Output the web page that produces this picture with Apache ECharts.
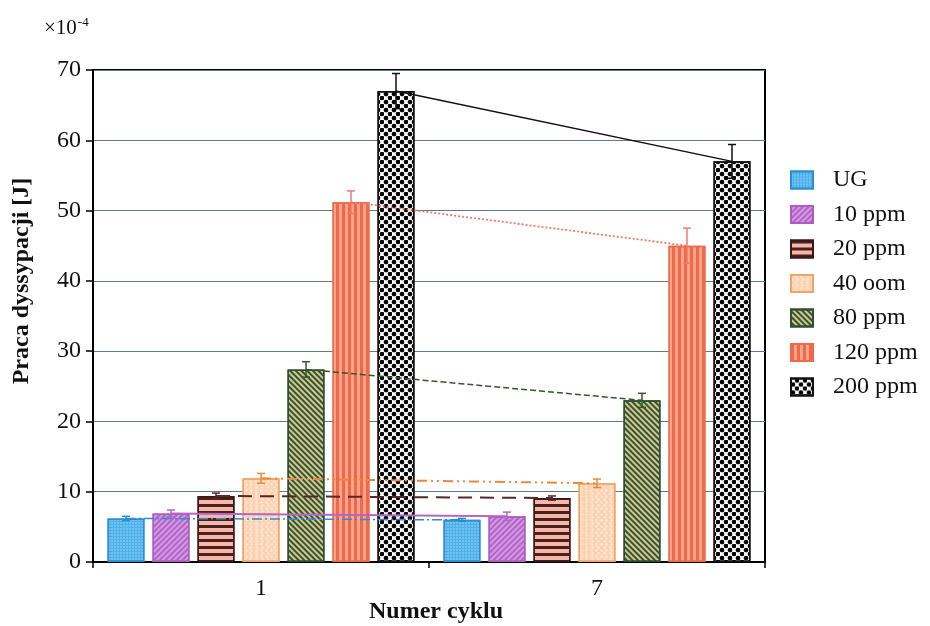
<!DOCTYPE html>
<html>
<head>
<meta charset="utf-8">
<script src="https://cdn.jsdelivr.net/npm/echarts@6/dist/echarts.min.js"></script>
<style>html,body{margin:0;padding:0;background:#fff;}#c{width:930px;height:626px;}</style>
</head>
<body>
<div id="c"></div>
<script>
// ---- data ----
var categories = ['1', '7'];
var seriesNames = ['UG', '10 ppm', '20 ppm', '40 oom', '80 ppm', '120 ppm', '200 ppm'];
var valUG   = [6.2, 6.0];
var val10   = [6.9, 6.5];
var val20   = [9.4, 9.1];
var val40   = [11.9, 11.2];
var val80   = [27.4, 23.0];
var val120  = [51.2, 45.0];
var val200  = [67.0, 57.0];
var errUG   = [0.3, 0.2];
var err10   = [0.5, 0.6];
var err20   = [0.4, 0.3];
var err40   = [0.7, 0.6];
var err80   = [1.1, 1.0];
var err120  = [1.6, 2.5];
var err200  = [2.5, 2.4];
var yTicks  = [0, 10, 20, 30, 40, 50, 60, 70];

var values = [valUG, val10, val20, val40, val80, val120, val200];
var errors = [errUG, err10, err20, err40, err80, err120, err200];

// ---- styles ----
var BAR_W = 37, GAP = 8;
var FONT = '"Liberation Serif", "Times New Roman", serif';
var styles = [
  { fill: '#4cb0ea', border: '#2a8ed6', line: '#2a8fd0', dash: [10, 3, 2, 3], lw: 1.5,
    decal: { symbol: 'rect', symbolSize: 0.7, dashArrayX: [[2, 1]], dashArrayY: [2, 1], color: 'rgba(255,255,255,0.45)' } },
  { fill: '#d29ae0', border: '#ad5cc0', line: '#b466c8', dash: null, lw: 2,
    decal: { symbol: 'rect', symbolSize: 1, dashArrayX: [1, 0], dashArrayY: [2, 2], rotation: -Math.PI / 4, color: '#b463c8' } },
  { fill: '#f6b7a6', border: '#3a1818', line: '#5a2626', dash: [14, 8], lw: 2,
    decal: { symbol: 'rect', symbolSize: 1, dashArrayX: [1, 0], dashArrayY: [2.5, 3.8], color: '#4a2020' } },
  { fill: '#fcd2b0', border: '#f2a466', line: '#f0883a', dash: [10, 4, 2, 4, 2, 4], lw: 2,
    decal: { symbol: 'circle', symbolSize: 0.8, dashArrayX: [[3, 2], [0, 2.5, 3, 0]], dashArrayY: [2.5, 0], color: 'rgba(255,255,255,0.5)' } },
  { fill: '#d8c689', border: '#2f4f2f', line: '#2f5a2a', dash: [6, 3], lw: 1.5,
    decal: { symbol: 'rect', symbolSize: 1, dashArrayX: [1, 0], dashArrayY: [2, 2], rotation: Math.PI / 4, color: '#2f553a' } },
  { fill: '#f9a58c', border: '#f06a4a', line: '#f07a66', dash: [2, 2], lw: 1.8,
    decal: { symbol: 'rect', symbolSize: 1, dashArrayX: [2.5, 2.2], dashArrayY: [1, 0], color: '#f0684c' } },
  { fill: '#ffffff', border: '#111111', line: '#111111', dash: null, lw: 1.5,
    decal: { symbol: 'circle', symbolSize: 1.15, dashArrayX: [[4, 4], [0, 4, 4, 0]], dashArrayY: [4, 0], color: '#000000' } }
];

function offsetOf(s) { return (s - 3) * (BAR_W + GAP); }

var series = [];
seriesNames.forEach(function (name, s) {
  series.push({
    type: 'bar', name: name, data: values[s],
    barWidth: BAR_W, barGap: (GAP / BAR_W * 100).toFixed(2) + '%',
    itemStyle: { color: styles[s].fill, borderColor: styles[s].border, borderWidth: 1.5, decal: styles[s].decal },
    z: 2
  });
});

// trend lines between cycles
var trendData = seriesNames.map(function (n, s) { return [0, values[s][0], values[s][1], s]; });
series.push({
  type: 'custom', name: 'trend', data: trendData, encode: { x: 0, y: 1 }, z: 5, silent: true,
  renderItem: function (params, api) {
    var s = api.value(3);
    var p1 = api.coord([0, api.value(1)]);
    var p2 = api.coord([1, api.value(2)]);
    var off = offsetOf(s);
    var st = styles[s];
    return {
      type: 'line',
      shape: { x1: p1[0] + off, y1: p1[1], x2: p2[0] + off, y2: p2[1] },
      style: { stroke: st.line, lineWidth: st.lw, lineDash: st.dash || null, fill: null }
    };
  }
});

// error bars
var errData = [];
seriesNames.forEach(function (n, s) {
  categories.forEach(function (c, ci) { errData.push([ci, values[s][ci], errors[s][ci], s]); });
});
series.push({
  type: 'custom', name: 'err', data: errData, encode: { x: 0, y: 1 }, z: 6, silent: true,
  renderItem: function (params, api) {
    var ci = api.value(0), v = api.value(1), e = api.value(2), s = api.value(3);
    var off = offsetOf(s);
    var top = api.coord([ci, v + e]);
    var bot = api.coord([ci, v - e]);
    var x = top[0] + off;
    var col = styles[s].line;
    var cap = 4;
    var st = { stroke: col, lineWidth: 1.5 };
    return {
      type: 'group',
      children: [
        { type: 'line', shape: { x1: x, y1: top[1], x2: x, y2: bot[1] }, style: st },
        { type: 'line', shape: { x1: x - cap, y1: top[1], x2: x + cap, y2: top[1] }, style: st },
        { type: 'line', shape: { x1: x - cap, y1: bot[1], x2: x + cap, y2: bot[1] }, style: st }
      ]
    };
  }
});

var chart = echarts.init(document.getElementById('c'), null, { renderer: 'canvas' });
chart.setOption({
  animation: false,
  backgroundColor: '#ffffff',
  textStyle: { fontFamily: FONT },
  grid: { left: 93, right: 165, top: 70, bottom: 64, show: true, borderColor: '#000', borderWidth: 2,
          containLabel: false, outerBoundsMode: 'none' },
  legend: {
    data: seriesNames, orient: 'vertical', left: 790, top: 168, padding: 0,
    icon: 'rect', itemWidth: 22, itemHeight: 17, itemGap: 10.5,
    textStyle: { fontFamily: FONT, fontSize: 24, color: '#111', padding: [0, 0, 0, 15] },
    selectedMode: false
  },
  xAxis: {
    type: 'category', data: categories,
    axisLine: { lineStyle: { color: '#000', width: 2 } },
    axisTick: { show: true, length: 6, lineStyle: { color: '#000', width: 1.5 } },
    axisLabel: { fontFamily: FONT, fontSize: 24, color: '#111', margin: 15 },
    name: 'Numer cyklu', nameLocation: 'middle', nameGap: 38, nameMoveOverlap: false,
    nameTextStyle: { fontFamily: FONT, fontSize: 24, fontWeight: 'bold', color: '#111', padding: [0, 0, 0, 14] }
  },
  yAxis: {
    type: 'value', min: 0, max: 70, interval: 10,
    axisLine: { show: true, lineStyle: { color: '#000', width: 2 } },
    axisTick: { show: true, length: 7, lineStyle: { color: '#000', width: 1.5 } },
    axisLabel: { fontFamily: FONT, fontSize: 24, color: '#111', margin: 12,
      formatter: function (v) { return yTicks.indexOf(v) >= 0 ? String(v) : ''; } },
    splitLine: { show: true, lineStyle: { color: '#5d7b8a', width: 1 } }
  },
  graphic: [{
    type: 'text', left: 44, top: 16,
    style: {
      text: '{a|×10}{b|-4}',
      rich: {
        a: { fontFamily: FONT, fontSize: 21, fill: '#111', verticalAlign: 'bottom' },
        b: { fontFamily: FONT, fontSize: 13, fill: '#111', verticalAlign: 'top', padding: [0, 0, 10, 1] }
      }
    }
  }, {
    type: 'text', x: 22, y: 281, rotation: Math.PI / 2,
    style: {
      text: 'Praca dyssypacji [J]', fontFamily: FONT, fontSize: 24, fontWeight: 'bold', fill: '#111',
      align: 'center', verticalAlign: 'middle'
    }
  }],
  series: series
});
</script>
</body>
</html>
